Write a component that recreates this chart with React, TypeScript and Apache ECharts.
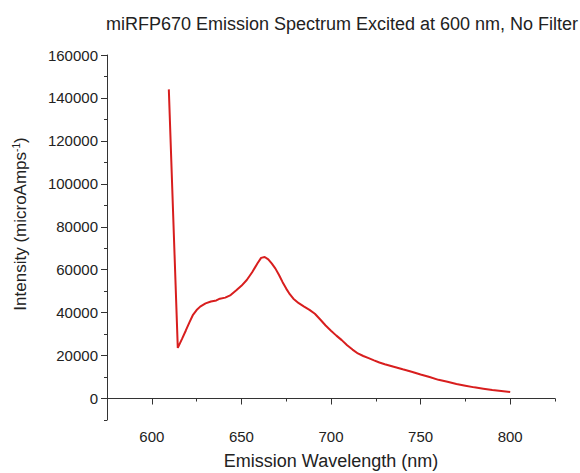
import React, { useEffect, useRef } from "react";
import * as echarts from "echarts";

const wavelengths = [
  609.5, 614.5, 617, 619, 621, 623, 625, 627, 630, 633, 636, 638, 641, 644, 647, 650, 653, 656, 659, 661,
  663, 665, 667, 669, 671, 673, 675, 677, 679, 682, 685, 688, 691, 694, 697, 700, 703, 706, 709, 712, 715,
  718, 721, 724, 727, 730, 735, 740, 745, 750, 755, 760, 765, 770, 775, 780, 785, 790, 795, 800,
];
const intensity = [
  144000, 23600, 28000, 31700, 35500, 39000, 41200, 42800, 44300, 45200, 45700, 46500, 47000, 48200, 50300,
  52500, 55200, 58800, 63000, 65500, 65900, 64800, 62800, 60500, 57500, 54200, 51200, 48600, 46500, 44400,
  42800, 41300, 39500, 36800, 34000, 31600, 29300, 27200, 24800, 22800, 21000, 19800, 18800, 17800, 16800,
  16000, 14800, 13600, 12500, 11200, 10000, 8700, 7800, 6800, 6000, 5200, 4600, 4000, 3500, 3000,
];
const xMajorTicks = [600, 650, 700, 750, 800];
const yMajorTicks = [0, 20000, 40000, 60000, 80000, 100000, 120000, 140000, 160000];

const titleText = "miRFP670 Emission Spectrum Excited at 600 nm, No Filter";
const xName = "Emission Wavelength (nm)";

export default function App() {
  const ref = useRef<HTMLDivElement>(null);
  useEffect(() => {
    if (!ref.current) return;
    const chart = echarts.init(ref.current, undefined, { renderer: "svg" });
    const font = "Liberation Sans, Arial, sans-serif";
    const axisColor = "#333";
    const textColor = "#222";
    const xRange = { min: 575, max: 825 };
    const yRange = { min: -10000, max: 160000 };
    chart.setOption({
      animation: false,
      backgroundColor: "#fff",
      title: {
        text: titleText,
        left: 337,
        textAlign: "center",
        top: 10,
        textStyle: { fontFamily: font, fontSize: 18, fontWeight: "normal", color: textColor },
      },
      grid: { left: 107, right: 25, top: 55, bottom: 53, containLabel: false, outerBoundsMode: "none" },
      xAxis: [
        {
          type: "value",
          ...xRange,
          interval: 25,
          name: xName,
          nameLocation: "middle",
          nameGap: 32,
          nameTextStyle: { fontFamily: font, fontSize: 18, color: textColor },
          axisLine: { show: true, lineStyle: { color: axisColor, width: 1 } },
          axisTick: { show: true, length: 3, lineStyle: { color: axisColor } },
          axisLabel: { show: false },
          splitLine: { show: false },
        },
        {
          type: "value",
          ...xRange,
          position: "bottom",
          axisLine: { show: false },
          axisTick: { show: true, length: 6, customValues: xMajorTicks, lineStyle: { color: axisColor } },
          axisLabel: {
            show: true,
            customValues: xMajorTicks,
            margin: 9,
            fontFamily: font,
            fontSize: 15,
            color: textColor,
            formatter: (v: number) => String(v),
          },
          splitLine: { show: false },
        },
      ],
      yAxis: [
        {
          type: "value",
          ...yRange,
          interval: 10000,
          axisLine: { show: true, lineStyle: { color: axisColor, width: 1 } },
          axisTick: { show: true, length: 3, lineStyle: { color: axisColor } },
          axisLabel: { show: false },
          splitLine: { show: false },
        },
        {
          type: "value",
          ...yRange,
          position: "left",
          axisLine: { show: false },
          axisTick: { show: true, length: 6, customValues: yMajorTicks, lineStyle: { color: axisColor } },
          axisLabel: {
            show: true,
            customValues: yMajorTicks,
            margin: 9,
            fontFamily: font,
            fontSize: 15,
            color: textColor,
            formatter: (v: number) => String(v),
          },
          splitLine: { show: false },
        },
      ],
      graphic: [
        {
          type: "text",
          x: 20,
          y: 224,
          rotation: Math.PI / 2,
          style: {
            text: "Intensity (microAmps{sup|-1})",
            fontFamily: font,
            fontSize: 17,
            fill: textColor,
            align: "center",
            verticalAlign: "middle",
            rich: {
              sup: { fontSize: 10, verticalAlign: "top", fill: textColor, fontFamily: font },
            },
          },
        },
      ],
      series: [
        {
          type: "line",
          xAxisIndex: 0,
          yAxisIndex: 0,
          data: wavelengths.map((w, i) => [w, intensity[i]]),
          showSymbol: false,
          symbol: "none",
          lineStyle: { color: "#d81e1e", width: 2 },
          smooth: false,
        },
      ],
    });
    return () => chart.dispose();
  }, []);
  return <div ref={ref} style={{ position: "fixed", left: 0, top: 0, width: 580, height: 473 }} />;
}
